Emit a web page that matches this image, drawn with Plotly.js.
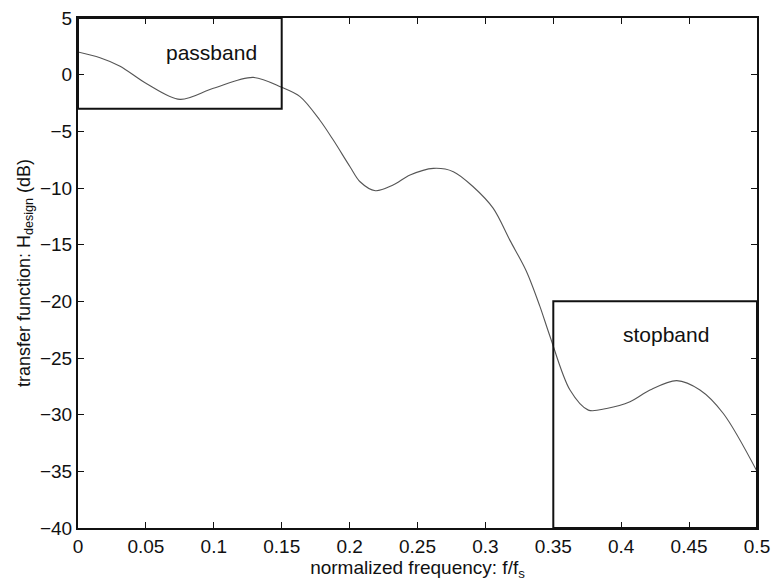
<!DOCTYPE html>
<html>
<head>
<meta charset="utf-8">
<script src="https://cdn.plot.ly/plotly-3.0.1.min.js"></script>
<style>html,body{margin:0;padding:0;background:#fff;}</style>
</head>
<body>
<div id="chart" style="width:773px;height:588px;"></div>
<script>
// normalized frequency f/fs
const freq = [0, 0.0162, 0.031, 0.0506, 0.0751, 0.0997, 0.129, 0.15, 0.1635, 0.178, 0.188, 0.2003, 0.2077, 0.219, 0.232, 0.2445, 0.2617, 0.2764, 0.291, 0.3058, 0.318, 0.330, 0.340, 0.3476, 0.3623, 0.3758, 0.3893, 0.4065, 0.4212, 0.4409, 0.458, 0.4752, 0.5];
// transfer function H_design (dB)
const gainDb = [2.0, 1.5, 0.75, -0.8, -2.18, -1.2, -0.24, -1.12, -1.94, -4.0, -5.77, -8.12, -9.45, -10.24, -9.74, -8.86, -8.27, -8.56, -9.89, -11.8, -14.6, -17.3, -20.4, -23.1, -27.83, -29.6, -29.45, -28.86, -27.83, -27.0, -27.83, -29.9, -35.0];
// spec boxes
const passbandX = [0, 0.15];
const passbandY = [-3, 5];
const stopbandX = [0.35, 0.5];
const stopbandY = [-40, -20];
const bandLabels = ["passband", "stopband"];
const labelPos = {passband: [0.098, 2.0], stopband: [0.433, -22.9]};
const xTicks = [0, 0.05, 0.1, 0.15, 0.2, 0.25, 0.3, 0.35, 0.4, 0.45, 0.5];
const xTickText = ["0", "0.05", "0.1", "0.15", "0.2", "0.25", "0.3", "0.35", "0.4", "0.45", "0.5"];
const yTicks = [5, 0, -5, -10, -15, -20, -25, -30, -35, -40];

const trace = {
  x: freq, y: gainDb, type: 'scatter', mode: 'lines',
  line: {color: '#555', width: 1.1, shape: 'spline', smoothing: 0.9},
  hoverinfo: 'skip'
};

const boxLine = {color: '#111', width: 2};
const layout = {
  width: 773, height: 588,
  margin: {l: 78, r: 16, t: 18, b: 60},
  paper_bgcolor: '#fff', plot_bgcolor: '#fff',
  font: {family: 'Liberation Sans, Arial, sans-serif', color: '#111', size: 19},
  showlegend: false,
  xaxis: {
    range: [0, 0.5], tickvals: xTicks, ticktext: xTickText,
    ticks: 'inside', ticklen: 6, tickcolor: '#111', tickwidth: 1,
    showline: true, linecolor: '#111', linewidth: 2, mirror: 'ticks',
    showgrid: false, zeroline: false, automargin: false,
    tickfont: {size: 19},
    title: {text: 'normalized frequency: f/f<sub>s</sub>', font: {size: 19}, standoff: 4}
  },
  yaxis: {
    range: [-40, 5], tickvals: yTicks,
    ticks: 'inside', ticklen: 6, tickcolor: '#111', tickwidth: 1,
    showline: true, linecolor: '#111', linewidth: 2, mirror: 'ticks',
    showgrid: false, zeroline: false, automargin: false,
    tickfont: {size: 19},
    title: {text: 'transfer function: H<sub>design</sub> (dB)', font: {size: 18}, standoff: 5}
  },
  shapes: [
    {type: 'rect', xref: 'x', yref: 'y', x0: passbandX[0], x1: passbandX[1], y0: passbandY[0], y1: passbandY[1], line: boxLine},
    {type: 'rect', xref: 'x', yref: 'y', x0: stopbandX[0], x1: stopbandX[1], y0: stopbandY[0], y1: stopbandY[1], line: boxLine}
  ],
  annotations: [
    {x: labelPos.passband[0], y: labelPos.passband[1], xref: 'x', yref: 'y', text: bandLabels[0], showarrow: false, font: {size: 21, color: '#111'}},
    {x: labelPos.stopband[0], y: labelPos.stopband[1], xref: 'x', yref: 'y', text: bandLabels[1], showarrow: false, font: {size: 21, color: '#111'}}
  ]
};

Plotly.newPlot('chart', [trace], layout, {displayModeBar: false, staticPlot: true});
</script>
</body>
</html>
